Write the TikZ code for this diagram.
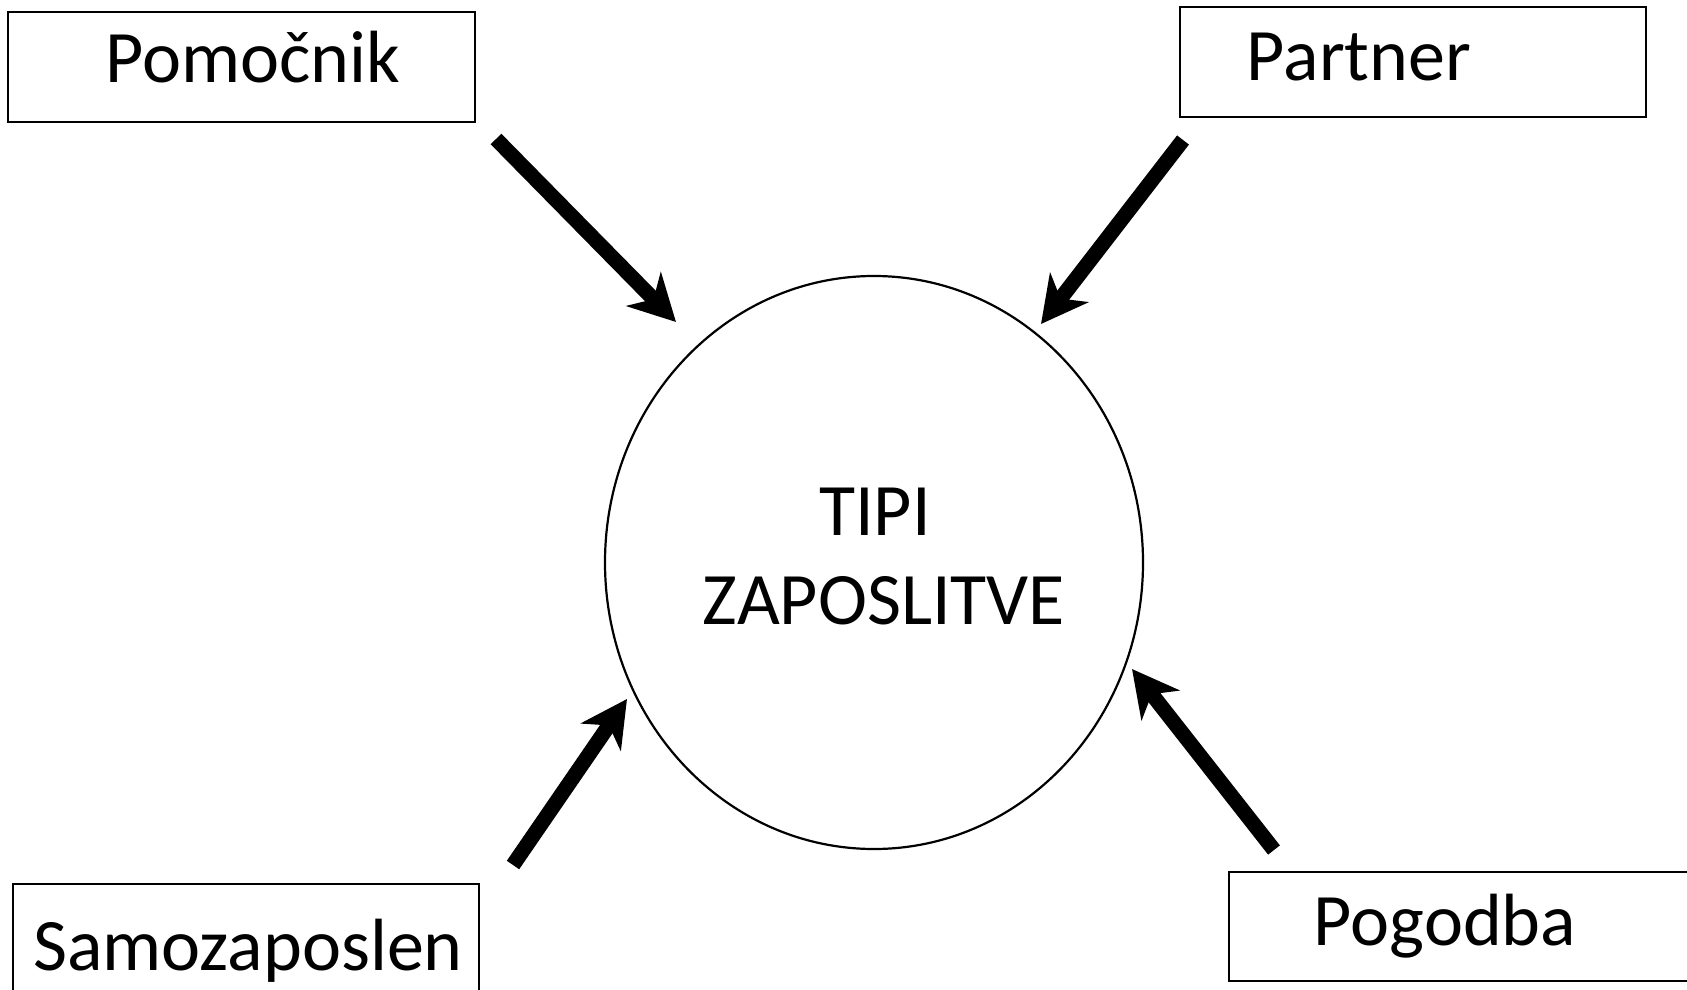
\documentclass[tikz,border=0pt]{standalone}
\usepackage{fontspec}
\setmainfont{Carlito}
\usetikzlibrary{arrows.meta,shapes.geometric}
\begin{document}
\begin{tikzpicture}[x=1pt,y=-1pt,
  boxstyle/.style={draw, line width=2pt, rectangle, inner sep=0pt},
  lbl/.style={anchor=base, inner sep=0pt, font=\fontsize{74}{89}\selectfont},
  bigarrow/.style={line width=15pt, -{Stealth[length=46pt,width=48pt,inset=14pt]}}]
\useasboundingbox (0,0) rectangle (1687,990);
% boxes
\node[boxstyle, minimum width=467pt, minimum height=110pt] (pomb) at (241.5,67) {};
\node[boxstyle, minimum width=466pt, minimum height=110pt] (parb) at (1413,62) {};
\node[boxstyle, minimum width=466pt, minimum height=126pt] (samb) at (246,947) {};
\node[boxstyle, minimum width=481pt, minimum height=109pt] (pogb) at (1469.5,926.5) {};
% labels
\node[lbl] (pom) at (253,83) {Pomočnik};
\node[lbl] (par) at (1359,81) {Partner};
\node[lbl] (sam) at (248,970) {Samozaposlen};
\node[lbl] (pog) at (1445,945) {Pogodba};
% circle
\node[draw, line width=2.2pt, ellipse, minimum width=538pt, minimum height=573pt, inner sep=0pt] (c) at (874,562.5) {};
\node[lbl] (t1) at (875,535) {TIPI};
\node[lbl] (t2) at (884,624) {ZAPOSLITVE};
% arrow end points
\coordinate (a1s) at (496,139);
\coordinate (a1e) at (676,322);
\coordinate (a2s) at (1183,140);
\coordinate (a2e) at (1041,324);
\coordinate (a3s) at (513,865);
\coordinate (a3e) at (627,699);
\coordinate (a4s) at (1274,850);
\coordinate (a4e) at (1132,669);
\draw[bigarrow] (a1s) -- (a1e);
\draw[bigarrow] (a2s) -- (a2e);
\draw[bigarrow] (a3s) -- (a3e);
\draw[bigarrow] (a4s) -- (a4e);
\end{tikzpicture}
\end{document}
